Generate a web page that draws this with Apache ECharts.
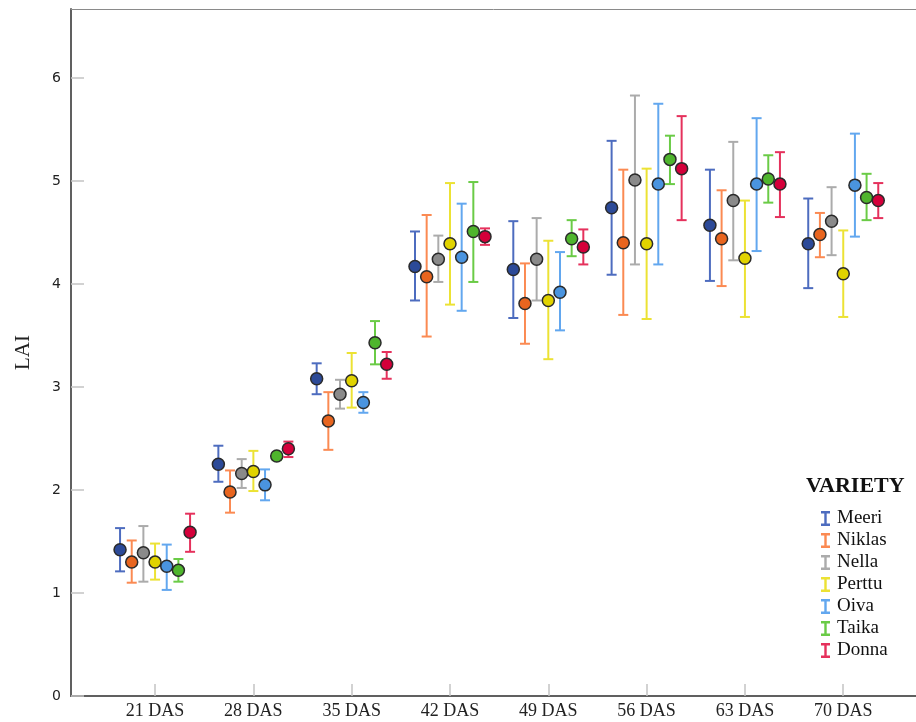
<!DOCTYPE html>
<html>
<head>
<meta charset="utf-8">
<script src="https://cdn.jsdelivr.net/npm/echarts@6/dist/echarts.min.js"></script>
<style>
  html, body { margin: 0; padding: 0; background: #fff; }
  #chart { width: 916px; height: 722px; }
</style>
</head>
<body>
<div id="chart"></div>
<script>
// Leaf area index by sampling date and variety: mean with lower/upper error limits
const categories = ['21 DAS', '28 DAS', '35 DAS', '42 DAS', '49 DAS', '56 DAS', '63 DAS', '70 DAS'];
const varieties = ['Meeri', 'Niklas', 'Nella', 'Perttu', 'Oiva', 'Taika', 'Donna'];
const yTicks = [0, 1, 2, 3, 4, 5, 6];

const meeriMean = [1.42, 2.25, 3.08, 4.17, 4.14, 4.74, 4.57, 4.39];
const meeriLow  = [1.21, 2.08, 2.93, 3.84, 3.67, 4.09, 4.03, 3.96];
const meeriHigh = [1.63, 2.43, 3.23, 4.51, 4.61, 5.39, 5.11, 4.83];

const niklasMean = [1.30, 1.98, 2.67, 4.07, 3.81, 4.40, 4.44, 4.48];
const niklasLow  = [1.10, 1.78, 2.39, 3.49, 3.42, 3.70, 3.98, 4.26];
const niklasHigh = [1.51, 2.19, 2.95, 4.67, 4.20, 5.11, 4.91, 4.69];

const nellaMean = [1.39, 2.16, 2.93, 4.24, 4.24, 5.01, 4.81, 4.61];
const nellaLow  = [1.11, 2.02, 2.79, 4.02, 3.84, 4.19, 4.23, 4.28];
const nellaHigh = [1.65, 2.30, 3.07, 4.47, 4.64, 5.83, 5.38, 4.94];

const perttuMean = [1.30, 2.18, 3.06, 4.39, 3.84, 4.39, 4.25, 4.10];
const perttuLow  = [1.13, 1.99, 2.80, 3.80, 3.27, 3.66, 3.68, 3.68];
const perttuHigh = [1.48, 2.38, 3.33, 4.98, 4.42, 5.12, 4.81, 4.52];

const oivaMean = [1.26, 2.05, 2.85, 4.26, 3.92, 4.97, 4.97, 4.96];
const oivaLow  = [1.03, 1.90, 2.75, 3.74, 3.55, 4.19, 4.32, 4.46];
const oivaHigh = [1.47, 2.20, 2.95, 4.78, 4.31, 5.75, 5.61, 5.46];

const taikaMean = [1.22, 2.33, 3.43, 4.51, 4.44, 5.21, 5.02, 4.84];
const taikaLow  = [1.11, 2.29, 3.22, 4.02, 4.27, 4.97, 4.79, 4.62];
const taikaHigh = [1.33, 2.36, 3.64, 4.99, 4.62, 5.44, 5.25, 5.07];

const donnaMean = [1.59, 2.40, 3.22, 4.46, 4.36, 5.12, 4.97, 4.81];
const donnaLow  = [1.40, 2.32, 3.08, 4.38, 4.19, 4.62, 4.65, 4.64];
const donnaHigh = [1.77, 2.47, 3.34, 4.54, 4.53, 5.63, 5.28, 4.98];

const means = [meeriMean, niklasMean, nellaMean, perttuMean, oivaMean, taikaMean, donnaMean];
const lows  = [meeriLow, niklasLow, nellaLow, perttuLow, oivaLow, taikaLow, donnaLow];
const highs = [meeriHigh, niklasHigh, nellaHigh, perttuHigh, oivaHigh, taikaHigh, donnaHigh];

// error bar colour and point fill colour per variety
const barColors   = ['#4d6cbf', '#fb8a52', '#ababab', '#ece234', '#62a7ef', '#6acb46', '#e5315c'];
const pointColors = ['#2c4a98', '#e8651f', '#8a8a8a', '#e1d300', '#4a94df', '#4fb52d', '#d4003a'];

const dodge = 0.1187; // horizontal spacing between varieties, in category units

const serifFont = '"Liberation Serif", "Times New Roman", serif';
const catPositions = categories.map(function (c, i) { return i; });

function errorBarItem(color) {
  return function (params, api) {
    const x = api.value(0);
    const pLo = api.coord([x, api.value(1)]);
    const pHi = api.coord([x, api.value(2)]);
    const half = 5;
    const style = { stroke: color, lineWidth: 2 };
    return {
      type: 'group',
      children: [
        { type: 'line', shape: { x1: pLo[0], y1: pLo[1], x2: pHi[0], y2: pHi[1] }, style: style },
        { type: 'line', shape: { x1: pLo[0] - half, y1: pLo[1], x2: pLo[0] + half, y2: pLo[1] }, style: style },
        { type: 'line', shape: { x1: pHi[0] - half, y1: pHi[1], x2: pHi[0] + half, y2: pHi[1] }, style: style }
      ]
    };
  };
}

const series = [];
varieties.forEach(function (name, s) {
  const offset = (s - 3) * dodge;
  series.push({
    name: name,
    type: 'custom',
    z: 2,
    itemStyle: { color: barColors[s] },
    renderItem: errorBarItem(barColors[s]),
    data: categories.map(function (c, i) { return [i + offset, lows[s][i], highs[s][i]]; }),
    encode: { x: 0, y: [1, 2] }
  });
});
varieties.forEach(function (name, s) {
  const offset = (s - 3) * dodge;
  series.push({
    name: name,
    type: 'scatter',
    z: 3,
    symbol: 'circle',
    symbolSize: 12,
    itemStyle: { color: pointColors[s], borderColor: '#2a2a2a', borderWidth: 1.5, opacity: 1 },
    data: categories.map(function (c, i) { return [i + offset, means[s][i]]; })
  });
});

const xRange = { min: -0.855, max: 7.74 };

const chart = echarts.init(document.getElementById('chart'), null, { renderer: 'canvas' });
chart.setOption({
  animation: false,
  backgroundColor: '#ffffff',
  title: {
    text: 'VARIETY',
    left: 801,
    top: 470,
    textStyle: { fontFamily: serifFont, fontSize: 22, fontWeight: 'bold', color: '#111' }
  },
  legend: {
    orient: 'vertical',
    left: 816,
    top: 504,
    itemWidth: 9,
    itemHeight: 15,
    itemGap: 3,
    icon: 'path://M0,0h9v2.4h-3.3v10.2h3.3v2.4h-9v-2.4h3.3v-10.2h-3.3z',
    textStyle: { fontFamily: serifFont, fontSize: 19, lineHeight: 15, color: '#111', padding: [0, 0, 0, 2] },
    data: varieties.map(function (v, s) { return { name: v, itemStyle: { color: barColors[s] } }; })
  },
  grid: { left: 71, top: 9, bottom: 26, right: 0 },
  xAxis: [{
    type: 'value',
    min: xRange.min,
    max: xRange.max,
    splitLine: { show: false },
    axisLine: { show: true, onZero: false, lineStyle: { color: '#606060', width: 2 } },
    axisTick: {
      show: true, inside: true, length: 12,
      customValues: catPositions,
      lineStyle: { color: '#c4c4c4', width: 1.5 }
    },
    axisLabel: {
      customValues: catPositions,
      formatter: function (v) { return categories[Math.round(v)]; },
      fontFamily: serifFont, fontSize: 18, color: '#222', margin: 6
    }
  }, {
    // top frame line
    type: 'value',
    position: 'top',
    min: xRange.min,
    max: xRange.max,
    splitLine: { show: false },
    axisLine: { show: true, onZero: false, lineStyle: { color: '#8a8a8a', width: 1 } },
    axisTick: { show: false },
    axisLabel: { show: false }
  }],
  yAxis: {
    type: 'value',
    min: 0,
    max: 6.67,
    name: 'LAI',
    nameLocation: 'middle',
    nameRotate: 90,
    nameGap: 37,
    nameTextStyle: { fontFamily: serifFont, fontSize: 21, color: '#222' },
    splitLine: { show: false },
    axisLine: { show: true, onZero: false, lineStyle: { color: '#606060', width: 2 } },
    axisTick: {
      show: true, inside: true, length: 13,
      customValues: yTicks,
      lineStyle: { color: '#c4c4c4', width: 1.5 }
    },
    axisLabel: {
      customValues: yTicks,
      fontFamily: '"DejaVu Sans", Verdana, sans-serif', fontSize: 14, color: '#222', margin: 10
    }
  },
  series: series
});
</script>
</body>
</html>
